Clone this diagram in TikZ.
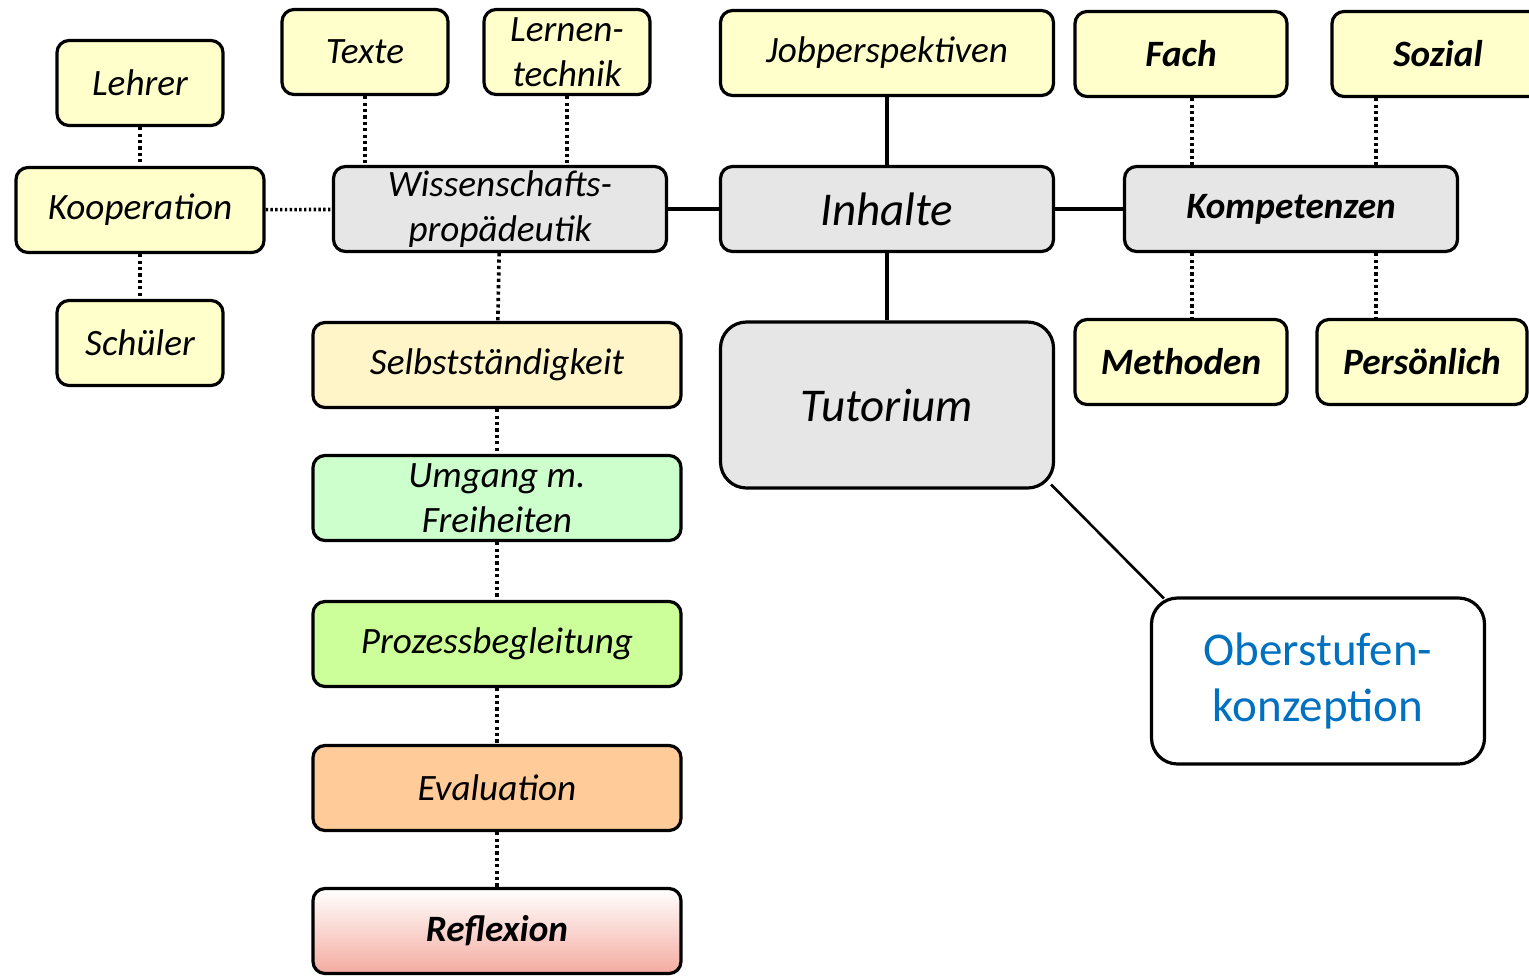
\documentclass[tikz,border=0pt]{standalone}
\usepackage{fontspec}
\setmainfont{Carlito}
\usetikzlibrary{positioning}
\definecolor{paleyellow}{RGB}{255,255,204}
\definecolor{palegrey}{RGB}{231,230,230}
\definecolor{selbstcol}{RGB}{255,245,200}
\definecolor{umgangcol}{RGB}{204,255,204}
\definecolor{prozesscol}{RGB}{204,255,153}
\definecolor{evalcol}{RGB}{255,204,153}
\definecolor{reflexcol}{RGB}{244,170,160}
\definecolor{titleblue}{RGB}{0,112,192}
\tikzset{
    x=0.5pt, y=-0.5pt,% one unit is one pixel of the layout
    box/.style ={draw, line width=1.6pt, rounded corners=6pt, align=center, inner sep=0pt,
        minimum height=42.5pt, font=\fontsize{18.6}{22.5}\selectfont\itshape},
    yel/.style ={box, fill=paleyellow, minimum width=83pt},
    grey/.style ={box, fill=palegrey, minimum width=166.5pt},
    stufe/.style ={box, minimum width=184pt}, % the boxes of the left column
    strong/.style ={font=\fontsize{18.6}{22.5}\selectfont\bfseries\itshape},
    big/.style ={font=\fontsize{23.5}{28}\selectfont\itshape, minimum height=83pt, rounded corners=13pt},
    dots/.style ={line width=1.8pt, dash pattern=on 1.6pt off 1.6pt},
    link/.style ={line width=2pt}
}
\begin{document}
\begin{tikzpicture}
\clip (0,0) rectangle (1529,976);
\node[yel] (lehrer) at (140,83) {Lehrer};
\node[yel, minimum width=124pt] (koop) at (140,210) {Kooperation};
\node[yel] (schueler) at (140,343) {Schüler};
\node[yel] (texte) at (365,52) {Texte};
\node[yel] (lernen) at (567,52) {Lernen-\\technik};
\node[grey] (wiss) at (500,209) {Wissenschafts-\\propädeutik};
\node[yel, minimum width=166.5pt] (job) at (887,53) {Jobperspektiven};
\node[grey, big, minimum height=42.5pt, rounded corners=6pt] (inhalte) at (887,209) {Inhalte};
\node[yel, strong, minimum width=106pt] (fach) at (1181,54) {Fach};
\node[yel, strong, minimum width=106pt] (sozial) at (1438,54) {Sozial};
\node[grey, strong] (komp) at (1291,209) {Kompetenzen};
\node[yel, strong, minimum width=106pt] (methoden) at (1181,362) {Methoden};
\node[yel, strong, minimum width=105pt] (pers) at (1422,362) {Persönlich};
\node[grey, big] (tutorium) at (887,405) {Tutorium};
\node[box, big, fill=white, text=titleblue, font=\fontsize{23.5}{28}\selectfont, minimum width=166.5pt] (oberstufe) at (1318,681) {Oberstufen-\\konzeption};

\node[stufe, fill=selbstcol] (selbst) at (497,365) {Selbstständigkeit};
\node[stufe, fill=umgangcol] (umgang) at (497,498) {Umgang m.\\Freiheiten};
\node[stufe, fill=prozesscol] (prozess) at (497,644) {Prozessbegleitung};
\node[stufe, fill=evalcol] (eval) at (497,788) {Evaluation};
\node[stufe, strong, top color=white, middle color=white, bottom color=reflexcol] (reflex) at (497,931) {Reflexion};

\coordinate (kl) at (1192,0);
\coordinate (kr) at (1376,0);

\draw[dots] (lehrer) -- (koop);
\draw[dots] (koop) -- (schueler);
\draw[dots, dash pattern=on 1.2pt off 1.2pt] (koop) -- (wiss);
\draw[dots] (texte) -- (texte |- wiss.north);
\draw[dots] (lernen) -- (lernen |- wiss.north);
\draw[link] (wiss) -- (inhalte);
\draw[link] (job) -- (inhalte);
\draw[link] (inhalte) -- (tutorium);
\draw[link] (inhalte) -- (komp);
\draw[dots] (fach.south -| kl) -- (komp.north -| kl);
\draw[dots] (sozial.south -| kr) -- (komp.north -| kr);
\draw[dots] (komp.south -| kl) -- (methoden.north -| kl);
\draw[dots] (komp.south -| kr) -- (pers.north -| kr);
\draw[dots] (wiss) -- (selbst);
\draw[dots] (selbst) -- (umgang);
\draw[dots] (umgang) -- (prozess);
\draw[dots] (prozess) -- (eval);
\draw[dots] (eval) -- (reflex);
\draw[line width=1.3pt] ([shift={(-4,-5)}]tutorium.south east) -- ([shift={(14,2)}]oberstufe.north west);
\end{tikzpicture}
\end{document}
